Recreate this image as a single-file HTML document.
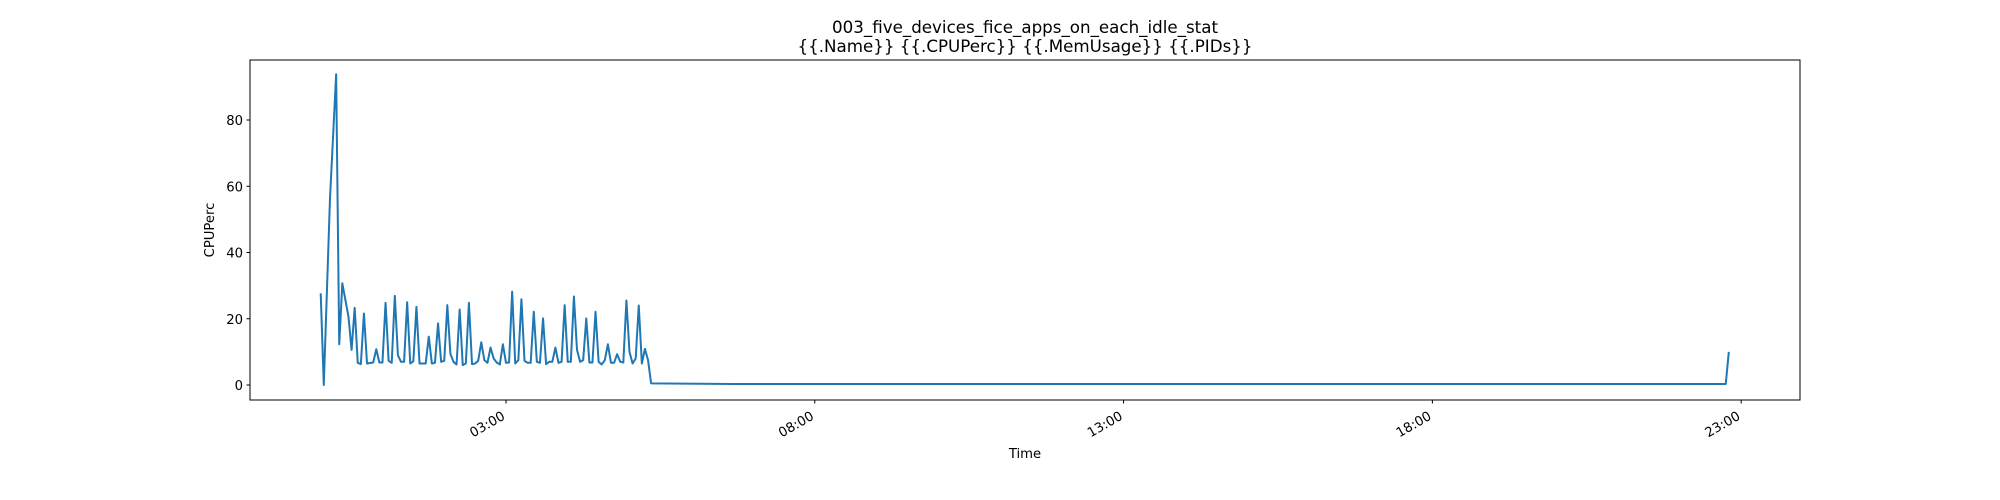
<!DOCTYPE html>
<html><head><meta charset="utf-8"><style>
html,body{margin:0;padding:0;background:#fff;}
svg{display:block;font-family:"DejaVu Sans","Liberation Sans",sans-serif;}
</style></head><body>
<svg id="chart" width="2000" height="500" viewBox="0 0 2000 500">
<text x="1025" y="33" font-size="16.7" text-anchor="middle">003_five_devices_fice_apps_on_each_idle_stat</text>
<text x="1025" y="52" font-size="16.7" text-anchor="middle">{{.Name}} {{.CPUPerc}} {{.MemUsage}}  {{.PIDs}}</text>
<g id="yaxis"></g>
<g id="xaxis"></g>
<path id="line" fill="none" stroke="#1f77b4" stroke-width="2" stroke-linejoin="round"></path>
<rect x="250" y="60" width="1550" height="340" fill="none" stroke="#000" stroke-width="1"></rect>
<text x="1025" y="458" font-size="13.2" text-anchor="middle">Time</text>
<text transform="translate(214,230) rotate(-90)" font-size="13.2" text-anchor="middle">CPUPerc</text>
</svg>
<script>
const timesMin = [0,3,9,15,18,21,27,30,33,36,39,42,45,51,54,57,60,63,66,69,72,75,78,81,84,87,90,93,96,102,105,108,111,114,117,120,123,126,129,132,135,138,141,144,147,150,153,156,159,162,165,168,171,174,177,180,183,186,189,192,195,198,201,204,207,210,213,216,219,222,225,228,231,234,237,240,243,246,249,252,255,258,261,264,267,270,273,276,279,282,285,288,291,294,297,300,303,306,309,312,315,318,321,400,500,600,700,800,900,1000,1100,1200,1300,1365,1368];
const cpuValues = [27.7,0,56,93.8,12.3,30.7,20.6,10.6,23.3,6.7,6.3,21.6,6.5,6.8,10.8,6.8,6.8,24.8,7.3,6.7,26.9,9,7,7,25,6.5,7.2,23.6,6.5,6.5,14.6,6.5,6.7,18.6,7,7.3,24.1,9.4,7,6.2,22.8,6,6.5,24.8,6.3,6.5,7.3,12.9,7.5,6.7,11.3,8,6.8,6.2,12.3,6.7,6.8,28.2,6.5,7.5,25.9,7.3,6.7,6.7,22.1,7,6.7,20.1,6.3,7,7,11.3,6.7,7,24.1,7,7,26.7,10.6,7,7.5,20.1,6.8,6.8,22.1,7,6.2,7.5,12.3,6.7,6.7,9.3,7,6.8,25.5,10,6.5,8,24,6.5,10.9,7.5,0.5,0.3,0.3,0.3,0.3,0.3,0.3,0.3,0.3,0.3,0.3,0.3,10];
const yTicks = [0,20,40,60,80];
const xTickHours = [3,8,13,18,23];
const xTickLabels = ["03:00","08:00","13:00","18:00","23:00"];
const NS="http://www.w3.org/2000/svg";
function yScale(v){return 385 - v*3.3125;}
function xScale(min){return 320.7 + min/60*61.76;}
const ya=document.getElementById('yaxis'), xa=document.getElementById('xaxis');
yTicks.forEach(v=>{
  const y=yScale(v);
  const l=document.createElementNS(NS,'line');
  l.setAttribute('x1',246.5);l.setAttribute('x2',250);l.setAttribute('y1',y);l.setAttribute('y2',y);l.setAttribute('stroke','#000');
  
  
  ya.appendChild(l);
  const t=document.createElementNS(NS,'text');
  t.setAttribute('x',243);t.setAttribute('y',y+5);t.setAttribute('font-size','13.2');t.setAttribute('text-anchor','end');
  t.textContent=v;
  
  
  ya.appendChild(t);
});
xTickHours.forEach((h,i)=>{
  const x=xScale(h*60);
  const l=document.createElementNS(NS,'line');
  l.setAttribute('x1',x);l.setAttribute('x2',x);l.setAttribute('y1',400);l.setAttribute('y2',403.5);l.setAttribute('stroke','#000');
  
  
  xa.appendChild(l);
  const t=document.createElementNS(NS,'text');
  t.setAttribute('transform','translate('+(x-5)+',410) rotate(-30)');
  t.setAttribute('font-size','13.2');t.setAttribute('text-anchor','end');t.setAttribute('dy','0.75em');
  t.textContent=xTickLabels[i];
  
  
  xa.appendChild(t);
});
let d='';
cpuValues.forEach((v,i)=>{d+=(i?'L':'M')+xScale(timesMin[i]).toFixed(2)+','+yScale(v).toFixed(2);});
document.getElementById('line').setAttribute('d',d);
</script>
</body></html>
